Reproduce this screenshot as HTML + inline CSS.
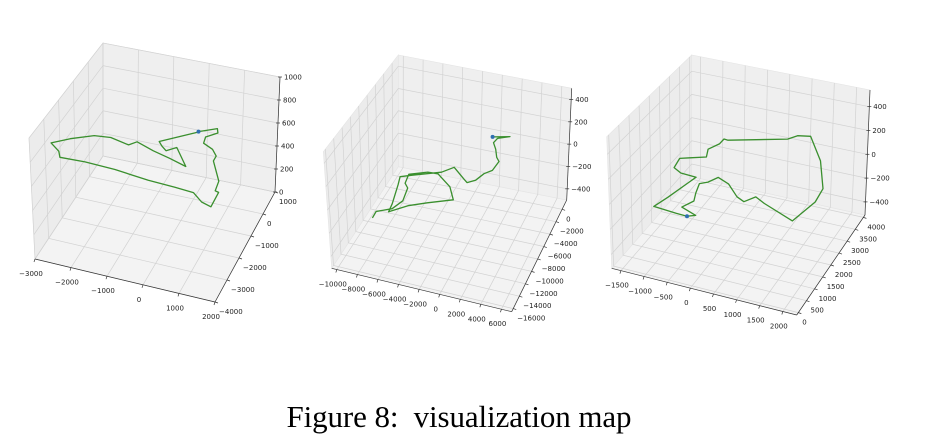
<!DOCTYPE html>
<html><head><meta charset="utf-8"><style>
html,body{margin:0;padding:0;background:#fff;}
svg{display:block;}
text{font-family:"DejaVu Sans","Liberation Sans",sans-serif;}
</style></head><body>
<svg id="fig" width="928" height="434" viewBox="0 0 928 434" xmlns="http://www.w3.org/2000/svg">
<g id="panels"></g>
<text x="459" y="427" text-anchor="middle" textLength="345" style="font-family:'Liberation Serif',serif;font-size:31px;fill:#000;white-space:pre">Figure 8:  visualization map</text>
</svg>
<script>
// ---- Panel 1 data ----
const p1X = [-56,375,455,207,255,571,769,772,1209,1260,1365,1385,1090,751,223,-533,-1511,-2360,-3041,-3171,-3501,-3112,-2583,-2143,-1581,-1422,-877,-355,173,-348,-565,-740,-881,-71];
const p1Y = [446,737,555,276,-9,-186,-445,-671,-1482,-1917,-1952,-2627,-2515,-2192,-2140,-2091,-1941,-1895,-1934,-1680,-1387,-1021,-664,-597,-755,-542,-784,-957,-1160,-427,-662,-503,-331,408];
const p1Z = [500,500,500,500,500,500,500,500,500,500,500,500,500,500,500,500,500,500,500,500,500,500,500,500,500,500,500,500,500,500,500,500,500,500];
const p1XTicks = [-3000,-2000,-1000,0,1000,2000];
const p1YTicks = [-4000,-3000,-2000,-1000,0,1000];
const p1ZTicks = [0,200,400,600,800,1000];
// ---- Panel 2 data ----
const p2X = [-425,1152,107,-30,518,1030,1459,1322,747,343,-282,-783,-2210,-3056,-5415,-6371,-6096,-5525,-5398,-4103,-2636,-573,-1550,-3269,-4247,-5764,-5586,-5094,-4803,-5271,-6440,-6398];
const p2Y = [310,893,225,-556,-1479,-2695,-3268,-4837,-5612,-6887,-7512,-7023,-5582,-6738,-8176,-8810,-10115,-13278,-14636,-13032,-11926,-10601,-8712,-7099,-7179,-8136,-9644,-10306,-12447,-14027,-15022,-16132];
const p2Z = [0,0,0,0,0,0,0,0,0,0,0,0,0,0,0,0,0,0,0,0,0,0,0,0,0,0,0,0,0,0,0,0];
const p2XTicks = [-10000,-8000,-6000,-4000,-2000,0,2000,4000,6000];
const p2YTicks = [-16000,-14000,-12000,-10000,-8000,-6000,-4000,-2000,0];
const p2ZTicks = [-400,-200,0,200,400];
// ---- Panel 3 data ----
const p3X = [-164,-22,-395,-273,-362,-445,-313,-198,89,440,639,786,1041,1797,1959,1922,1477,913,647,507,-619,-715,-719,-843,-746,-1034,-1213,-1161,-952,-606,-665,-792,-898,-392,-164];
const p3Y = [180,290,482,831,1154,1554,1689,1962,1803,1382,1256,1543,1369,962,1871,2438,3472,4335,4255,4043,3504,3518,3283,2977,2656,2478,2366,1952,1800,1772,1452,735,248,191,180];
const p3Z = [0,0,0,0,0,0,0,0,0,0,0,0,0,0,0,0,0,0,0,0,0,0,0,0,0,0,0,0,0,0,0,0,0,0,0];
const p3XTicks = [-1500,-1000,-500,0,500,1000,1500,2000];
const p3YTicks = [0,500,1000,1500,2000,2500,3000,3500,4000];
const p3ZTicks = [-400,-200,0,200,400];

const NS = 'http://www.w3.org/2000/svg';
const root = document.getElementById('panels');

const panels = [
  {name:'panel-1', xs:p1X, ys:p1Y, zs:p1Z, xt:p1XTicks, yt:p1YTicks, zt:p1ZTicks,
   xr:[-3000,2000], yr:[-4000,1000], zr:[0,1000],
   FL:[35,259], FR:[215,302], BR:[275,192], BL:[103,156],
   TFL:[29,138], TFR:[218,180], TBR:[280,77], TBL:[103,43]},
  {name:'panel-2', xs:p2X, ys:p2Y, zs:p2Z, xt:p2XTicks, yt:p2YTicks, zt:p2ZTicks,
   xr:[-10500,7000], yr:[-16500,1500], zr:[-500,500],
   FL:[331.7,268.3], FR:[511.7,311.7], BR:[566.7,200], BL:[398.3,166.7],
   TFL:[323.3,151.7], TFR:[515,193], TBR:[571.7,88.3], TBL:[398.3,55]},
  {name:'panel-3', xs:p3X, ys:p3Y, zs:p3Z, xt:p3XTicks, yt:p3YTicks, zt:p3ZTicks,
   xr:[-1700,2300], yr:[-100,4100], zr:[-510,540],
   FL:[611.7,268.3], FR:[796.7,315], BR:[865,215], BL:[691.7,176.7],
   TFL:[606.7,136.7], TFR:[800,183], TBR:[870,90], TBL:[691.7,55]}
];

function bil(a,b,c,d,u,v){
  const x=(1-u)*(1-v)*a[0]+u*(1-v)*b[0]+u*v*c[0]+(1-u)*v*d[0];
  const y=(1-u)*(1-v)*a[1]+u*(1-v)*b[1]+u*v*c[1]+(1-u)*v*d[1];
  return [x,y];
}
function makeProj(p){
  return function(x,y,z){
    const u=(x-p.xr[0])/(p.xr[1]-p.xr[0]);
    const v=(y-p.yr[0])/(p.yr[1]-p.yr[0]);
    const w=(z-p.zr[0])/(p.zr[1]-p.zr[0]);
    const f=bil(p.FL,p.FR,p.BR,p.BL,u,v);
    const t=bil(p.TFL,p.TFR,p.TBR,p.TBL,u,v);
    return [f[0]+w*(t[0]-f[0]), f[1]+w*(t[1]-f[1])];
  };
}
function el(tag,attrs,parent){
  const e=document.createElementNS(NS,tag);
  for(const k in attrs) e.setAttribute(k,attrs[k]);
  parent.appendChild(e);
  return e;
}
function pts(a){return a.map(q=>q[0].toFixed(1)+','+q[1].toFixed(1)).join(' ');}

panels.forEach(p=>{
  const P=makeProj(p);
  const g=el('g',{},root);
  
  
  const [x0,x1]=p.xr,[y0,y1]=p.yr,[z0,z1]=p.zr;
  const floor=el('polygon',{points:pts([P(x0,y0,z0),P(x1,y0,z0),P(x1,y1,z0),P(x0,y1,z0)]),fill:'#f3f3f3',stroke:'#e4e4e4','stroke-width':0.6},g);
  
  
  const left=el('polygon',{points:pts([P(x0,y0,z0),P(x0,y1,z0),P(x0,y1,z1),P(x0,y0,z1)]),fill:'#ececec',stroke:'#e4e4e4','stroke-width':0.6},g);
  
  
  const back=el('polygon',{points:pts([P(x0,y1,z0),P(x1,y1,z0),P(x1,y1,z1),P(x0,y1,z1)]),fill:'#efefef',stroke:'#e4e4e4','stroke-width':0.6},g);
  
  
  const grid=el('g',{stroke:'#d2d2d2','stroke-width':0.7,fill:'none'},g);
  
  
  p.xt.forEach(t=>{
    el('polyline',{points:pts([P(t,y0,z0),P(t,y1,z0),P(t,y1,z1)])},grid);
  });
  p.yt.forEach(t=>{
    el('polyline',{points:pts([P(x1,t,z0),P(x0,t,z0),P(x0,t,z1)])},grid);
  });
  p.zt.forEach(t=>{
    el('polyline',{points:pts([P(x0,y0,t),P(x0,y1,t),P(x1,y1,t)])},grid);
  });
  const ax=el('g',{stroke:'#333','stroke-width':0.7},g);
  
  
  el('polyline',{points:pts([P(x0,y0,z0),P(x1,y0,z0)])},ax);
  el('polyline',{points:pts([P(x1,y0,z0),P(x1,y1,z0)])},ax);
  el('polyline',{points:pts([P(x1,y1,z0),P(x1,y1,z1)])},ax);
  const lab=el('g',{'font-size':'7px',fill:'#222'},g);
  
  
  p.xt.forEach(t=>{
    const a=P(t,y0,z0);
    el('line',{x1:a[0],y1:a[1],x2:a[0]-1,y2:a[1]+3,stroke:'#333','stroke-width':0.7},g);
    const tx=el('text',{x:(a[0]-4).toFixed(1),y:(a[1]+17).toFixed(1),'text-anchor':'middle'},lab);
    tx.textContent=String(t).replace('-','\u2212');
    
    
  });
  p.yt.forEach(t=>{
    const a=P(x1,t,z0);
    el('line',{x1:a[0],y1:a[1],x2:a[0]+3,y2:a[1]+1,stroke:'#333','stroke-width':0.7},g);
    const tx=el('text',{x:(a[0]+4).toFixed(1),y:(a[1]+12).toFixed(1),'text-anchor':'start'},lab);
    tx.textContent=String(t).replace('-','\u2212');
    
    
  });
  p.zt.forEach(t=>{
    const a=P(x1,y1,t);
    el('line',{x1:a[0]-2,y1:a[1],x2:a[0]+2,y2:a[1],stroke:'#333','stroke-width':0.7},g);
    const tx=el('text',{x:(a[0]+4).toFixed(1),y:(a[1]+2.5).toFixed(1),'text-anchor':'start'},lab);
    tx.textContent=String(t).replace('-','\u2212');
    
    
  });
  const tr=p.xs.map((x,i)=>P(x,p.ys[i],p.zs[i]));
  const line=el('polyline',{points:pts(tr),fill:'none',stroke:'#3a8f2e','stroke-width':1.3,'stroke-linejoin':'round'},g);
  
  
  const dot=el('circle',{cx:tr[0][0].toFixed(1),cy:tr[0][1].toFixed(1),r:2,fill:'#2f6fb0'},g);
  
  
});
</script>
</body></html>
